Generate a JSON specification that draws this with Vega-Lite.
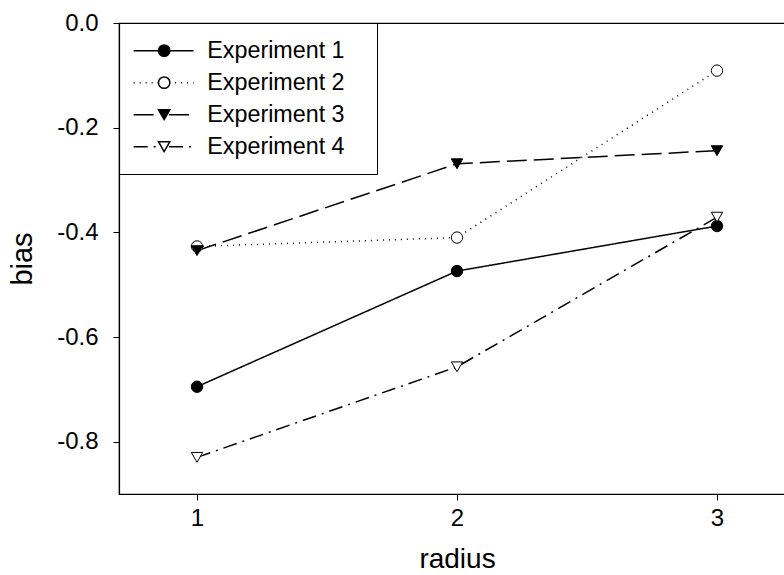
{
  "$schema": "https://vega.github.io/schema/vega-lite/v6.json",
  "autosize": "none",
  "width": 676,
  "height": 471,
  "padding": {"left": 119, "top": 23, "right": 0, "bottom": 81},
  "background": "white",
  "config": {
    "font": "Liberation Sans",
    "locale": {"number": {"decimal": ".", "thousands": ",", "grouping": [3], "currency": ["$", ""], "minus": "-"}},
    "view": {"stroke": "black", "strokeWidth": 1.2},
    "axis": {
      "grid": false,
      "domainColor": "black",
      "domainWidth": 1.2,
      "tickColor": "black",
      "tickSize": 6,
      "labelColor": "black",
      "labelFont": "Liberation Sans",
      "labelFontSize": 24,
      "titleColor": "black",
      "titleFont": "Liberation Sans",
      "titleFontSize": 29,
      "titleFontWeight": "normal"
    },
    "legend": {"labelFont": "Liberation Sans", "labelColor": "black"}
  },
  "data": {
    "values": [
      {"radius": 1, "bias": -0.695, "exp": "Experiment 1"},
      {"radius": 2, "bias": -0.474, "exp": "Experiment 1"},
      {"radius": 3, "bias": -0.388, "exp": "Experiment 1"},
      {"radius": 1, "bias": -0.427, "exp": "Experiment 2"},
      {"radius": 2, "bias": -0.41, "exp": "Experiment 2"},
      {"radius": 3, "bias": -0.091, "exp": "Experiment 2"},
      {"radius": 1, "bias": -0.435, "exp": "Experiment 3"},
      {"radius": 2, "bias": -0.269, "exp": "Experiment 3"},
      {"radius": 3, "bias": -0.244, "exp": "Experiment 3"},
      {"radius": 1, "bias": -0.83, "exp": "Experiment 4"},
      {"radius": 2, "bias": -0.657, "exp": "Experiment 4"},
      {"radius": 3, "bias": -0.371, "exp": "Experiment 4"}
    ]
  },
  "encoding": {
    "x": {
      "field": "radius", "type": "quantitative",
      "scale": {"domain": [0.7, 3.3], "nice": false, "zero": false},
      "axis": {"values": [1, 2, 3], "format": "d", "labelPadding": 6, "titlePadding": 15, "titleFontSize": 28, "title": "radius"}
    },
    "y": {
      "field": "bias", "type": "quantitative",
      "scale": {"domain": [-0.9, 0], "nice": false, "zero": false},
      "axis": {"values": [-0.8, -0.6, -0.4, -0.2, 0], "format": ".1f", "labelPadding": 15, "titlePadding": 19, "title": "bias"}
    }
  },
  "layer": [
    {
      "mark": {"type": "line", "color": "black", "strokeWidth": 1.5},
      "encoding": {
        "strokeDash": {
          "field": "exp", "type": "nominal",
          "scale": {"range": [[1, 0], [1, 5], [20, 7], [14, 6, 2, 6]]},
          "legend": {
            "orient": "none", "legendX": 0, "legendY": 0, "title": null,
            "symbolType": "M-5,0H-0.9M0.9,0H5M32.3,0", "symbolSize": 144, "symbolStrokeWidth": 1.5, "symbolStrokeColor": "black",
            "symbolFillColor": "transparent",
            "symbolOffset": 17, "labelOffset": 32,
            "labelFontSize": 23.3, "padding": 16, "rowPadding": 8,
            "strokeColor": "black"
          }
        }
      }
    },
    {
      "mark": {"type": "point", "filled": true, "stroke": "black", "strokeWidth": 1, "size": 130, "opacity": 1},
      "encoding": {
        "shape": {
          "field": "exp", "type": "nominal",
          "scale": {"domain": ["Experiment 1", "Experiment 2", "Experiment 3", "Experiment 4"], "range": ["circle", "circle", "triangle-down", "triangle-down"]},
          "legend": {
            "orient": "none", "legendX": 0, "legendY": 0, "title": null,
            "symbolSize": 130, "symbolOffset": 17.5,
            "labelFontSize": 23.3, "labelExpr": "''", "padding": 16, "rowPadding": 8,
            "encode": {"symbols": {"update": {"stroke": {"value": "black"}, "strokeWidth": {"value": 1}}}}
          }
        },
        "fill": {
          "field": "exp", "type": "nominal",
          "scale": {"domain": ["Experiment 1", "Experiment 2", "Experiment 3", "Experiment 4"], "range": ["black", "white", "black", "white"]},
          "legend": {
            "orient": "none", "legendX": 0, "legendY": 0, "title": null,
            "symbolSize": 130, "symbolOffset": 17.5,
            "labelFontSize": 23.3, "labelExpr": "''", "padding": 16, "rowPadding": 8,
            "encode": {"symbols": {"update": {"stroke": {"value": "black"}, "strokeWidth": {"value": 1}}}}
          }
        }
      }
    }
  ]
}
